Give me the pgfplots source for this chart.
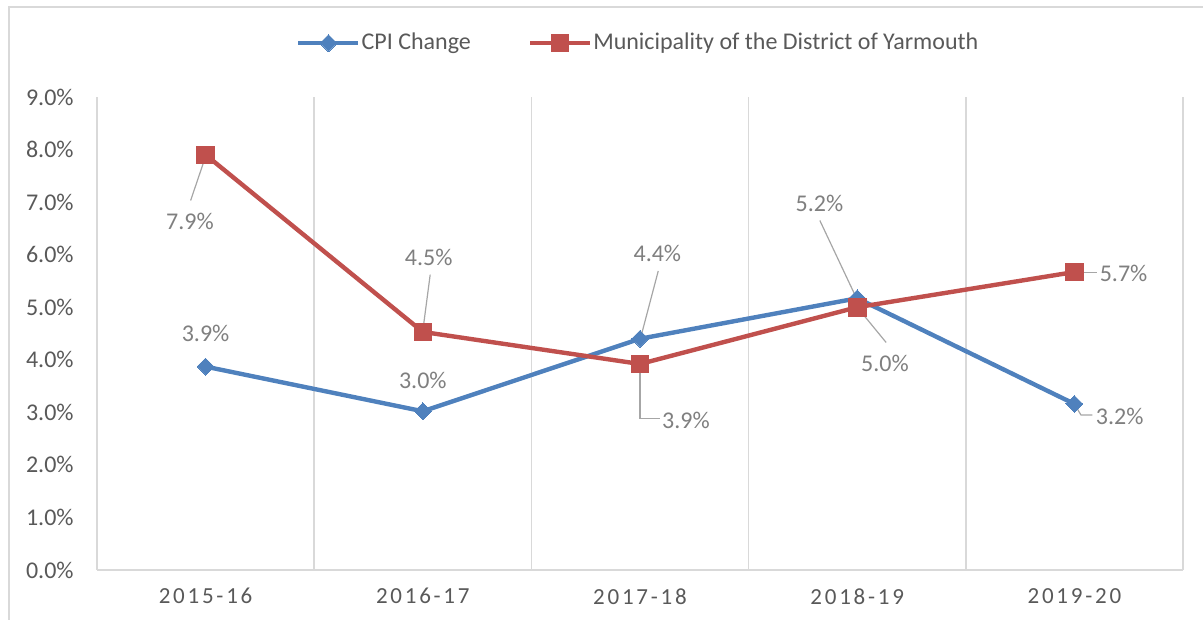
\documentclass[border=0pt]{standalone}
\usepackage{pgfplots}
\pgfplotsset{compat=1.18}
\usepackage{fontspec}
\setmainfont{Carlito}
\newfontfamily\catfont[LetterSpace=12]{Carlito}
\definecolor{cpiblue}{HTML}{4F81BD}
\definecolor{munired}{HTML}{C0504D}
\definecolor{ticktext}{HTML}{595959}
\definecolor{labtext}{HTML}{7F7F7F}
\definecolor{gridc}{HTML}{D9D9D9}
\definecolor{leader}{HTML}{A6A6A6}
\begin{document}
\begin{tikzpicture}
\path[use as bounding box] (-48.5pt,-25pt) rectangle (553pt,285pt);
\draw[gridc, line width=0.9pt] (-44pt,-26pt) -- (-44pt,281.5pt) -- (554pt,281.5pt);
\begin{axis}[
  at={(0pt,0pt)}, anchor=south west,
  scale only axis, width=543pt, height=236.5pt,
  xmin=-0.5, xmax=4.5, ymin=0, ymax=9,
  axis line style={draw=none},
  xtick={0,1,2,3,4},
  xticklabels={2015-16,2016-17,2017-18,2018-19,2019-20},
  minor xtick={-0.5,0.5,1.5,2.5,3.5,4.5},
  minor x grid style={gridc, line width=0.8pt},
  xminorgrids=true,
  ytick={0,1,2,3,4,5,6,7,8,9},
  yticklabels={0.0\%,1.0\%,2.0\%,3.0\%,4.0\%,5.0\%,6.0\%,7.0\%,8.0\%,9.0\%},
  extra y ticks={0},
  extra y tick labels={},
  extra y tick style={grid=major, major grid style={gridc, line width=0.8pt}},
  major tick length=0pt, minor tick length=0pt,
  tick label style={font=\fontsize{12}{14}\selectfont, text=ticktext},
  xticklabel style={font=\catfont\fontsize{11.5}{14}\selectfont, anchor=north, inner sep=0pt, yshift=-9pt},
  yticklabel style={anchor=east, inner sep=0pt, xshift=-11.5pt},
  /pgf/number format/assume math mode=true,
  legend style={at={(0.498,1.114)}, anchor=center, draw=none, fill=none,
    font=\fontsize{12}{14}\selectfont, text=ticktext,
    /tikz/every even column/.append style={column sep=28pt},
    inner sep=0pt, nodes={inner sep=0.5pt}},
  legend columns=2,
  legend image code/.code={
    \draw[mark repeat=2,mark phase=2,#1] plot coordinates {(0pt,0pt) (15pt,0pt) (30pt,0pt)};
  },
  clip=false,
]
\addplot[cpiblue, line width=2.2pt, mark=square*, mark size=3pt,
  mark options={rotate=45, line width=0pt, fill=cpiblue}]
  coordinates {(0,3.87) (1,3.02) (2,4.40) (3,5.17) (4,3.16)};
\addlegendentry{CPI Change}
\addplot[munired, line width=2.2pt, mark=square*, mark size=4.4pt,
  mark options={line width=0pt, fill=munired}]
  coordinates {(0,7.90) (1,4.53) (2,3.92) (3,5.00) (4,5.67)};
\addlegendentry{Municipality of the District of Yarmouth}
% leader lines
\draw[leader, line width=0.6pt] (axis cs:0,7.87) -- (axis cs:-0.069,7.03);
\draw[leader, line width=0.6pt] (axis cs:1.034,5.62) -- (axis cs:1.0,4.55);
\draw[leader, line width=0.6pt] (axis cs:2.084,5.69) -- (axis cs:2.003,4.42);
\draw[leader, line width=0.6pt] (axis cs:2.0,3.87) -- (axis cs:2.0,2.88) -- (axis cs:2.092,2.88);
\draw[leader, line width=0.6pt] (axis cs:2.828,6.65) -- (axis cs:2.998,5.16);
\draw[leader, line width=0.6pt] (axis cs:2.998,5.01) -- (axis cs:3.133,4.33);
\draw[leader, line width=0.6pt] (axis cs:4.0,5.66) -- (axis cs:4.103,5.66);
\draw[leader, line width=0.6pt] (axis cs:4.0,3.16) -- (axis cs:4.03,2.95) -- (axis cs:4.083,2.95);
% data labels
\begin{scope}[every node/.style={font=\fontsize{12}{14}\selectfont, text=labtext, inner sep=0pt}]
\node at (axis cs:-0.072,6.64) {7.9\%};
\node at (axis cs:0,4.51) {3.9\%};
\node at (axis cs:1.027,5.95) {4.5\%};
\node at (axis cs:1.0,3.61) {3.0\%};
\node at (axis cs:2.08,6.03) {4.4\%};
\node[anchor=west] at (axis cs:2.10,2.85) {3.9\%};
\node at (axis cs:2.826,6.98) {5.2\%};
\node at (axis cs:3.128,3.94) {5.0\%};
\node[anchor=west] at (axis cs:4.115,5.64) {5.7\%};
\node[anchor=west] at (axis cs:4.097,2.93) {3.2\%};
\end{scope}
\end{axis}
\end{tikzpicture}
\end{document}
